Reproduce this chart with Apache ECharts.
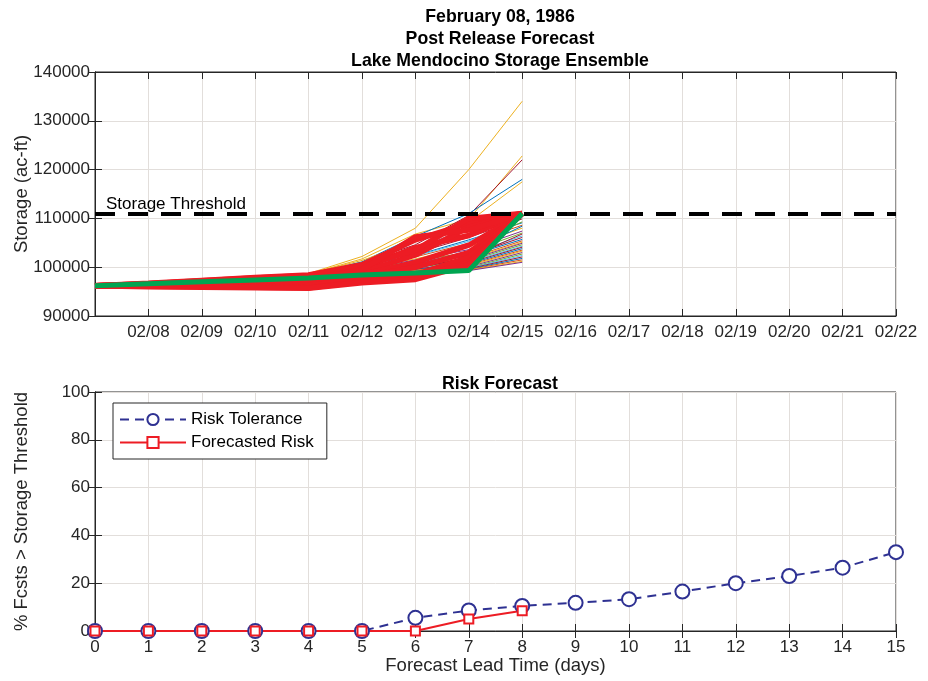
<!DOCTYPE html>
<html>
<head>
<meta charset="utf-8">
<script src="https://cdn.jsdelivr.net/npm/echarts@6/dist/echarts.min.js"></script>
<style>
html,body{margin:0;padding:0;background:#fff}
#chart{width:928px;height:681px}
</style>
</head>
<body>
<div id="chart"></div>
<script>
// storage ensemble (top panel)
var dateLabels = ['02/07','02/08','02/09','02/10','02/11','02/12','02/13','02/14','02/15','02/16','02/17','02/18','02/19','02/20','02/21','02/22'];
var storageDays = [0,1,2,3,4,5,6,7,8];
var thinMembers = [
	[96200,96800,97400,98000,98700,102200,108000,120000,134000],
	[96200,96800,97400,98000,98600,101700,106800,109800,122800],
	[96200,96700,97300,97900,98500,100900,104600,110600,122000],
	[96200,96700,97300,97900,98500,101100,106300,111000,118000],
	[96200,96800,97400,98000,98600,101400,105200,109300,117500],
	[96200,96700,97200,97800,98400,100600,103600,108200,110600],
	[96200,96600,97100,97600,98200,100100,102900,106100,109900],
	[96200,96700,97200,97700,98300,100300,102400,105600,109100],
	[96200,96600,97100,97600,98100,99800,102100,104900,108600],
	[96200,96600,97000,97500,98000,99600,101700,104200,108000],
	[96200,96700,97200,97700,98200,99400,101500,103600,107400],
	[96200,96600,97100,97600,98100,99500,101200,103100,107000],
	[96200,96600,97000,97500,98000,99200,101000,102700,106400],
	[96200,96600,97100,97500,98000,99300,100700,102400,106100],
	[96200,96500,97000,97400,97900,99100,100600,102300,105700],
	[96200,96600,97000,97500,97900,98900,100300,101900,105400],
	[96200,96600,97000,97400,97900,99000,100100,101700,105100],
	[96200,96500,96900,97400,97800,98800,100000,101500,104900],
	[96200,96600,97000,97400,97800,98700,99900,101300,104600],
	[96200,96500,96900,97300,97800,98800,99700,101100,104300],
	[96200,96500,96900,97300,97700,98600,99600,100900,104100],
	[96200,96500,96900,97300,97700,98700,99500,100700,103800],
	[96200,96500,96900,97300,97700,98500,99400,100500,103500],
	[96200,96500,96800,97200,97600,98500,99300,100300,103300],
	[96200,96500,96800,97200,97600,98400,99200,100100,103000],
	[96200,96400,96800,97200,97600,98400,99100,99900,102700],
	[96200,96500,96800,97200,97500,98300,99000,99800,102400],
	[96200,96400,96800,97100,97500,98300,98900,99700,102100],
	[96200,96400,96700,97100,97500,98200,98800,99600,101800],
	[96200,96400,96700,97100,97400,98200,98800,99500,101500],
	[96200,96400,96700,97000,97400,98100,98700,99400,101200],
	[96200,96400,96700,97000,97400,98100,98600,99300,101000],
	[96200,96600,97000,97500,97900,99000,101100,104300,109300],
	[96200,96700,97100,97600,98100,99700,102300,105300,110200],
	[96200,96500,96900,97300,97700,98600,99800,102000,106800],
	[96200,96600,97000,97400,97800,99100,100500,103300,108400]
];
var redMembers = [
	[96200,96700,97300,97900,98400,100500,105600,109000,111000],
	[96200,96600,97100,97600,98000,99800,104000,106500,111000],
	[96200,96500,96900,97300,97600,99000,102500,108200,111000],
	[96200,96400,96700,96900,97200,98500,101000,104500,111000],
	[96200,96300,96500,96700,96800,98000,100000,103000,111000],
	[96200,96200,96300,96300,96300,97500,98500,102000,111000],
	[96200,96100,96000,95900,95800,97000,97800,101000,111000],
	[96200,96000,95900,95800,95700,96800,97500,100500,111000],
	[96200,96600,97200,97800,98300,100200,103500,110000,111000],
	[96200,96400,96800,97200,97500,99500,106200,107600,111000]
];
var greenMember = [96200,96600,97000,97400,97800,98400,98800,99300,111000];
var thresholdValue = 111000;

// risk forecast (bottom panel)
var leadDays = [0,1,2,3,4,5,6,7,8,9,10,11,12,13,14,15];
var riskTolerance = [0,0,0,0,0,0,5.5,8.6,10.5,11.8,13.3,16.5,20,23,26.5,33];
var forecastedRisk = [0,0,0,0,0,0,0,5,8.5];

var matlabColors = ['#0072BD','#D95319','#EDB120','#7E2F8E','#77AC30','#4DBEEE','#A2142F'];
var firstColors = [2,2,6,0,2];
var font = "'Liberation Sans', Arial, sans-serif";
var ink = '#262626';
var gridColor = '#e2dedb';
var nameStyle = { fontSize: 18.5, color: ink, fontFamily: font };

function pairs(xs, ys) {
	return ys.map(function (v, i) { return [xs[i], v]; });
}

function valueAxis(idx, pos, min, max, interval, showLabel, fmt, margin) {
	return {
		type: 'value', gridIndex: idx, position: pos, min: min, max: max, interval: interval,
		nameMoveOverlap: false,
		axisLine: { show: true, lineStyle: { color: ink, width: 1 } },
		axisTick: { show: true, inside: true, length: 7, lineStyle: { color: ink } },
		axisLabel: { show: showLabel, color: ink, fontSize: 17, fontFamily: font, margin: margin || 8, formatter: fmt },
		splitLine: { show: showLabel, lineStyle: { color: gridColor, width: 1 } }
	};
}

var series = [];
thinMembers.forEach(function (m, i) {
	var c = i < firstColors.length ? matlabColors[firstColors[i]] : matlabColors[i % 7];
	series.push({
		type: 'line', xAxisIndex: 0, yAxisIndex: 0, data: pairs(storageDays, m),
		symbol: 'none', silent: true, lineStyle: { color: c, width: 1 }
	});
});
series.push({
	type: 'line', xAxisIndex: 0, yAxisIndex: 0, data: [], symbol: 'none',
	markLine: {
		silent: true, symbol: 'none',
		lineStyle: { color: '#000', width: 4, type: [20, 13] },
		label: { show: true, position: 'insideStartTop', formatter: 'Storage Threshold', color: '#000', fontSize: 17, fontFamily: font, distance: [11, 1] },
		data: [{ yAxis: thresholdValue }]
	}
});
redMembers.forEach(function (m) {
	series.push({
		type: 'line', xAxisIndex: 0, yAxisIndex: 0, data: pairs(storageDays, m),
		symbol: 'none', silent: true, lineStyle: { color: '#ED1C24', width: 5.5 }
	});
});
series.push({
	type: 'line', xAxisIndex: 0, yAxisIndex: 0, data: pairs(storageDays, greenMember),
	symbol: 'none', silent: true, lineStyle: { color: '#00A551', width: 5 }
});
series.push({
	name: 'Risk Tolerance', type: 'line', xAxisIndex: 2, yAxisIndex: 2, data: pairs(leadDays, riskTolerance),
	symbol: 'emptyCircle', symbolSize: 14, showAllSymbol: true,
	lineStyle: { color: '#2E3192', width: 2, type: [9, 6] },
	itemStyle: { color: '#2E3192', borderWidth: 2 }
});
series.push({
	name: 'Forecasted Risk', type: 'line', xAxisIndex: 2, yAxisIndex: 2, data: pairs(leadDays, forecastedRisk),
	symbol: 'emptyRect', symbolSize: 9, showAllSymbol: true,
	lineStyle: { color: '#ED1C24', width: 2 },
	itemStyle: { color: '#ED1C24', borderWidth: 1.5 }
});

var xAxes = [
	valueAxis(0, 'bottom', 0, 15, 1, true, function (v) { return v === 0 ? '' : dateLabels[v]; }),
	valueAxis(0, 'top', 0, 15, 1, false),
	valueAxis(1, 'bottom', 0, 15, 1, true, function (v) { return String(v); }),
	valueAxis(1, 'top', 0, 15, 1, false)
];
var yAxes = [
	valueAxis(0, 'left', 90000, 140000, 10000, true, function (v) { return String(v); }, 5),
	valueAxis(0, 'right', 90000, 140000, 10000, false),
	valueAxis(1, 'left', 0, 100, 20, true, function (v) { return String(v); }, 5),
	valueAxis(1, 'right', 0, 100, 20, false)
];
xAxes[2].name = 'Forecast Lead Time (days)';
xAxes[2].nameLocation = 'middle';
xAxes[2].nameGap = 25;
xAxes[2].nameTextStyle = nameStyle;
yAxes[0].name = 'Storage (ac-ft)';
yAxes[0].nameLocation = 'middle';
yAxes[0].nameGap = 64;
yAxes[0].nameTextStyle = nameStyle;
yAxes[2].name = '% Fcsts > Storage Threshold';
yAxes[2].nameLocation = 'middle';
yAxes[2].nameGap = 64;
yAxes[2].nameTextStyle = nameStyle;

var chart = echarts.init(document.getElementById('chart'), null, { renderer: 'canvas' });
chart.setOption({
	backgroundColor: '#fff',
	animation: false,
	title: [
		{ text: 'February 08, 1986\nPost Release Forecast\nLake Mendocino Storage Ensemble', left: 495, top: 1, textAlign: 'center',
			textStyle: { fontSize: 17.7, fontWeight: 'bold', color: '#000', fontFamily: font, lineHeight: 22 } },
		{ text: 'Risk Forecast', left: 495, top: 370, textAlign: 'center',
			textStyle: { fontSize: 17.7, fontWeight: 'bold', color: '#000', fontFamily: font } }
	],
	legend: {
		data: ['Risk Tolerance', 'Forecasted Risk'], orient: 'vertical', left: 113, top: 403,
		backgroundColor: '#fff', borderColor: ink, borderWidth: 1, padding: [8, 13, 8, 6], itemGap: 6,
		itemWidth: 66, itemHeight: 14,
		textStyle: { fontSize: 17, color: '#000', fontFamily: font }
	},
	grid: [
		{ left: 95, right: 32, top: 72, height: 244, show: true, borderColor: ink, borderWidth: 1, backgroundColor: 'transparent', outerBoundsMode: 'none' },
		{ left: 95, right: 32, top: 392, height: 239, show: true, borderColor: ink, borderWidth: 1, backgroundColor: 'transparent', outerBoundsMode: 'none' }
	],
	xAxis: xAxes,
	yAxis: yAxes,
	series: series
});
</script>
</body>
</html>
